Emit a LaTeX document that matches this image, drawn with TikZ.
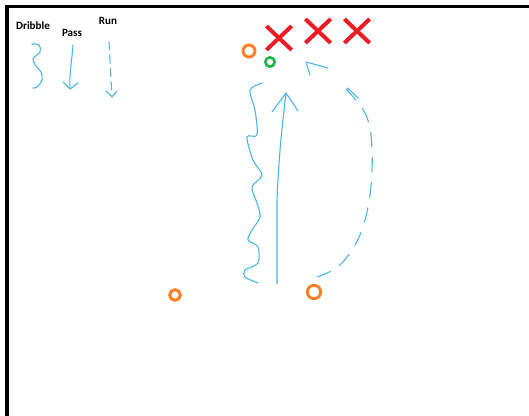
\documentclass[tikz,border=0pt]{standalone}
\usepackage{fontspec}
\setmainfont{Carlito}
\usetikzlibrary{shapes.misc}
\definecolor{pblue}{RGB}{70,180,230}
\definecolor{pred}{RGB}{237,28,36}
\definecolor{porange}{RGB}{255,127,39}
\definecolor{pgreen}{RGB}{34,177,76}
\tikzset{
  lbl/.style={font=\fontsize{8.3}{10}\selectfont\bfseries, inner sep=0pt},
  bline/.style={draw=pblue, line width=0.8pt, line join=round, line cap=round},
  dline/.style={bline, dash pattern=on 11pt off 8pt},
  xmark/.style={cross out, draw=pred, line width=3pt, minimum width=16pt, minimum height=15pt, inner sep=0pt},
  ring/.style={circle, draw=#1, line width=2.2pt, inner sep=0pt},
}
\begin{document}
\begin{tikzpicture}[x=0.75pt,y=-0.75pt]
\useasboundingbox (0,0) rectangle (529,416);
\fill[white] (0,0) rectangle (529,416);
% frame
\draw[line width=2.4pt, black] (7,416) -- (7,6.5) -- (529,6.5);
% legend
\node[lbl] (tdribble) at (33,26) {Dribble};
\node[lbl] (tpass) at (72,33) {Pass};
\node[lbl] (trun) at (108,21) {Run};
\draw[bline] plot[smooth, tension=0.6] coordinates {(32,44) (39,45) (40,52) (33,59) (36,66) (41,72) (42,80) (37,87) (33,88)};
\coordinate (pa) at (73,45);
\coordinate (pb) at (70,89);
\draw[bline] (pa) .. controls (72,60) and (69,75) .. (pb);
\draw[bline] (63,82) -- (pb) -- (78,83);
\coordinate (ra) at (109,42);
\coordinate (rb) at (112,97);
\draw[bline, dash pattern=on 6pt off 4pt] (ra) -- (rb);
\draw[bline] (106,91) -- (rb) -- (117,91);
% defenders
\node[xmark] (x1) at (279,38) {};
\node[xmark] (x2) at (318,31) {};
\node[xmark] (x3) at (357,31) {};
% players
\node[ring=porange, minimum size=9pt] (o1) at (249,51) {};
\node[ring=pgreen, minimum size=7pt, line width=2pt] (g1) at (270,62) {};
\node[ring=porange, minimum size=8pt] (o2) at (175,295) {};
\node[ring=porange, minimum size=10pt] (o3) at (314,292) {};
% big dribble squiggle
\draw[bline] plot[smooth, tension=0.5] coordinates {(262,83) (250,90) (255,110) (257,135) (247,137) (253,160) (262,175) (252,187) (257,203) (260,217) (252,230) (248,240) (258,247) (258,263) (245,270) (245,277) (258,283)};
% straight pass arrow
\coordinate (sa) at (277,284);
\coordinate (sb) at (286,93);
\draw[bline] (sa) -- (277,200) .. controls (279,150) and (283,120) .. (sb);
\draw[bline] (272,112) -- (sb) -- (298,111);
% dashed run
\coordinate (da) at (317,277);
\coordinate (db) at (343,85);
\draw[dline] plot[smooth, tension=0.6] coordinates {(da) (340,265) (360,235) (370,195) (372,150) (366,115) (db) (358,98)};
\coordinate (tip) at (306,62);
\draw[bline] (310,75) -- (tip) -- (328,68);
\end{tikzpicture}
\end{document}
